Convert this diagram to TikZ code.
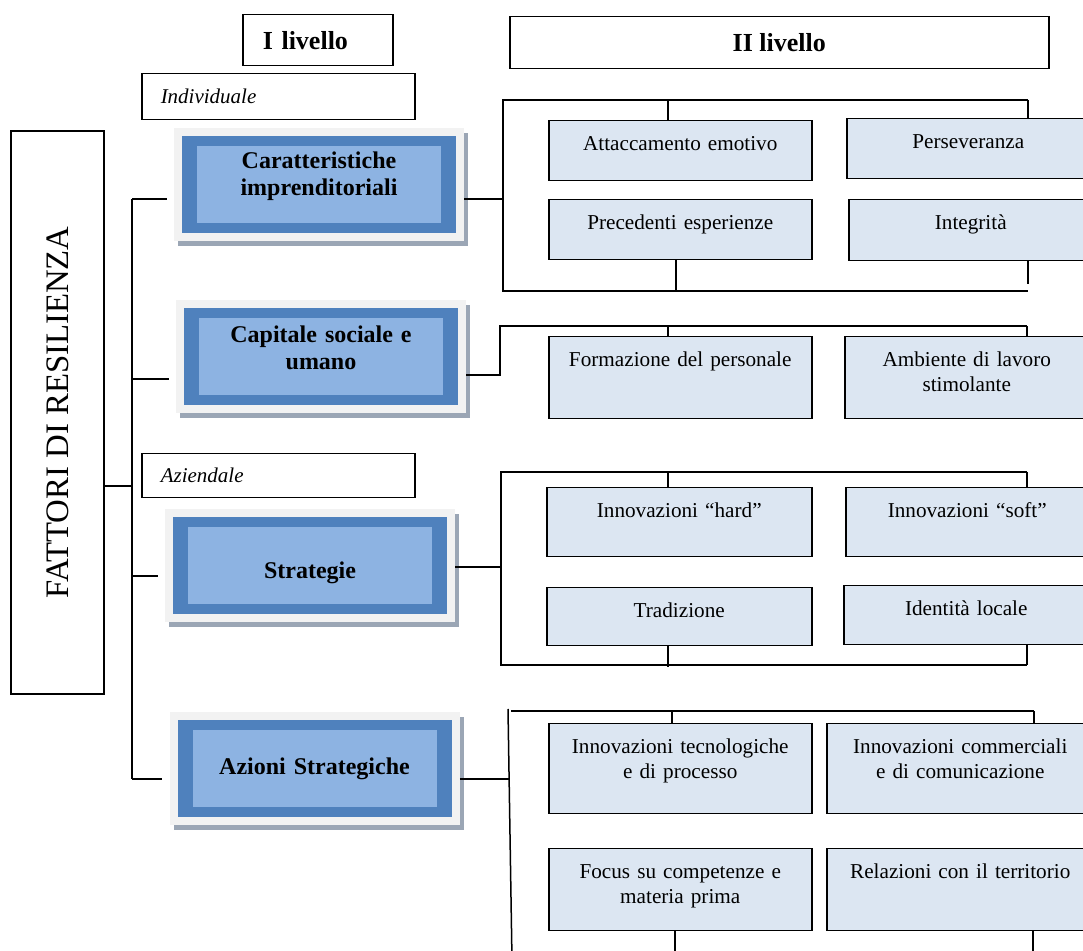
\documentclass[tikz,border=0pt]{standalone}
\usepackage{fontspec}
\setmainfont{Liberation Serif}
\usepackage{xcolor}
\usetikzlibrary{positioning, calc, shadows}

\definecolor{lvdark}{HTML}{4F81BD}
\definecolor{lvlight}{HTML}{8DB3E2}
\definecolor{lvframe}{HTML}{F2F2F2}
\definecolor{lvshadow}{HTML}{9BA6B5}
\definecolor{subfill}{HTML}{DCE6F2}

\begin{document}
\begin{tikzpicture}[
    x=0.5pt, y=-0.5pt,
    conn/.style={line width=0.75pt},
    title/.style={draw, line width=0.75pt, inner sep=0pt, font=\bfseries\fontsize{13}{15}\selectfont},
    tag/.style={draw, line width=0.75pt, inner xsep=9.5pt, inner ysep=0pt, text width=117.5pt, minimum height=#1, align=left, font=\itshape\fontsize{10.5}{12}\selectfont},
    lvone/.style={fill=lvframe, minimum width=145pt, minimum height=56.5pt, inner sep=0pt, text width=125pt, align=center,
      font=\bfseries\fontsize{12}{13.5}\selectfont,
      drop shadow={shadow xshift=2pt, shadow yshift=-2.5pt, fill=lvshadow, opacity=1},
      path picture={
        \fill[lvdark] ([shift={(4pt,4pt)}]path picture bounding box.south west) rectangle ([shift={(-4pt,-4pt)}]path picture bounding box.north east);
        \fill[lvlight] ([shift={(11.5pt,9pt)}]path picture bounding box.south west) rectangle ([shift={(-11.5pt,-9pt)}]path picture bounding box.north east);
      }},
    subbox/.style 2 args={draw, line width=0.75pt, fill=subfill, inner sep=0pt, text width=#1, text height=15pt, text depth=#2,
      align=center, anchor=north west, font=\fontsize{10.6}{12.5}\selectfont},
  ]
  \clip (0,0) rectangle (1083,951);

  % Headers
  \node[title, text width=55pt, align=left, inner xsep=10pt, minimum height=25.5pt, anchor=north west] (lvl1) at (242,14) {I livello};
  \node[title, minimum width=269.5pt, minimum height=26pt, anchor=north west] (lvl2) at (509,16) {II livello};

  \node[tag=23pt, anchor=north west] (indiv) at (141,73) {Individuale};
  \node[tag=22pt, anchor=north west] (azien) at (141,453) {Aziendale};

  % Root
  \node[draw, line width=0.75pt, rotate=90, minimum width=281.5pt, minimum height=46.5pt, inner sep=0pt,
    font=\fontsize{16.4}{18}\selectfont] (fattori) at (57.5,412.5) {FATTORI DI RESILIENZA};

  % I livello
  \node[lvone, text depth=24pt] (car) at (319,184.5) {Caratteristiche\\imprenditoriali};
  \node[lvone, text depth=22.5pt] (cap) at (321,357) {Capitale sociale e\\umano};
  \node[lvone, text height=15pt] (strat) at (310,566) {Strategie};
  \node[lvone] (azioni) at (314.5,768.5) {Azioni Strategiche};

  % II livello - group 1
  \node[subbox={131.5pt}{15pt}] (attac) at (548,120) {Attaccamento emotivo};
  \node[subbox={121.5pt}{15pt}] (persev) at (846,118) {Perseveranza};
  \node[subbox={131.5pt}{15pt}] (preced) at (548,199) {Precedenti esperienze};
  \node[subbox={122pt}{15.5pt}] (integr) at (848,199) {Integrità};

  % II livello - group 2
  \node[subbox={131.5pt}{26pt}] (formaz) at (548,336) {Formazione del personale};
  \node[subbox={122pt}{26pt}] (ambien) at (844,336) {Ambiente di lavoro\\stimolante};

  % II livello - group 3
  \node[subbox={132.5pt}{19.5pt}] (hard) at (546,487) {Innovazioni “hard”};
  \node[subbox={121.5pt}{19.5pt}] (soft) at (845,487) {Innovazioni “soft”};
  \node[subbox={132.5pt}{14pt}] (trad) at (546,587) {Tradizione};
  \node[subbox={122.5pt}{14.5pt}] (ident) at (843,585) {Identità locale};

  % II livello - group 4
  \node[subbox={131.5pt}{30pt}] (tecno) at (548,723) {Innovazioni tecnologiche\\e di processo};
  \node[subbox={133.5pt}{30pt}] (comm) at (826,723) {Innovazioni commerciali\\e di comunicazione};
  \node[subbox={131.5pt}{26pt}] (focus) at (548,848) {Focus su competenze e\\materia prima};
  \node[subbox={133.5pt}{26pt}] (relaz) at (826,848) {Relazioni con il territorio};

  % Left tree
  \coordinate (sp1) at (132,199);
  \coordinate (sp2) at (132,379);
  \coordinate (sp3) at (132,576);
  \coordinate (sp4) at (132,779);
  \coordinate (spm) at (132,486);
  \draw[conn] (sp1) -- (sp4);
  \draw[conn] (fattori.south |- spm) -- (spm);
  \draw[conn, shorten >=3.5pt] (sp1) -- (sp1 -| car.west);
  \draw[conn, shorten >=3.5pt] (sp2) -- (sp2 -| cap.west);
  \draw[conn, shorten >=3.5pt] (sp3) -- (sp3 -| strat.west);
  \draw[conn, shorten >=3.5pt] (sp4) -- (sp4 -| azioni.west);

  % Group 1 bracket
  \coordinate (j1) at (503,199);
  \coordinate (g1tl) at (503,100);
  \coordinate (g1tr) at (1028,100);
  \coordinate (g1bl) at (503,291);
  \coordinate (g1br) at (1028,291);
  \coordinate (g1ta) at (668,100);
  \coordinate (g1ba) at (676,291);
  \draw[conn] (car.east |- j1) -- (j1);
  \draw[conn] (g1tr) -- (g1tl) -- (g1bl) -- (g1br);
  \draw[conn] (g1ta) -- (g1ta |- attac.north);
  \draw[conn] (g1tr) -- (g1tr |- persev.north);
  \draw[conn] (g1ba) -- (g1ba |- preced.south);
  \draw[conn, shorten >=3.5pt] (g1br |- integr.south) -- (g1br);

  % Group 2 bracket
  \coordinate (j2) at (500,375);
  \coordinate (g2tl) at (500,326);
  \coordinate (g2tr) at (1027,326);
  \coordinate (g2ta) at (668,326);
  \draw[conn] (cap.east |- j2) -- (j2) -- (g2tl) -- (g2tr);
  \draw[conn] (g2ta) -- (g2ta |- formaz.north);
  \draw[conn] (g2tr) -- (g2tr |- ambien.north);

  % Group 3 bracket
  \coordinate (j3) at (501,567);
  \coordinate (g3tl) at (501,472);
  \coordinate (g3tr) at (1027,472);
  \coordinate (g3bl) at (501,665);
  \coordinate (g3br) at (1027,665);
  \coordinate (g3ta) at (668,472);
  \coordinate (g3ba) at (668,667);
  \draw[conn] (strat.east |- j3) -- (j3);
  \draw[conn] (g3tr) -- (g3tl) -- (g3bl) -- (g3br);
  \draw[conn] (g3ta) -- (g3ta |- hard.north);
  \draw[conn] (g3tr) -- (g3tr |- soft.north);
  \draw[conn] (g3ba) -- (g3ba |- trad.south);
  \draw[conn] (g3br) -- (g3br |- ident.south);

  % Group 4 bracket
  \coordinate (j4) at (510,779);
  \coordinate (g4tl) at (508,709);
  \coordinate (g4bl) at (512,960);
  \coordinate (g4ts) at (511,711);
  \coordinate (g4tr) at (1034,711);
  \coordinate (g4ta) at (672,711);
  \coordinate (g4ba) at (675,960);
  \coordinate (g4bb) at (1033,960);
  \draw[conn] (azioni.east |- j4) -- (j4);
  \draw[conn] (g4tl) -- (g4bl);
  \draw[conn] (g4ts) -- (g4tr);
  \draw[conn] (g4ta) -- (g4ta |- tecno.north);
  \draw[conn] (g4tr) -- (g4tr |- comm.north);
  \draw[conn] (g4ba) -- (g4ba |- focus.south);
  \draw[conn] (g4bb) -- (g4bb |- relaz.south);

\end{tikzpicture}
\end{document}
